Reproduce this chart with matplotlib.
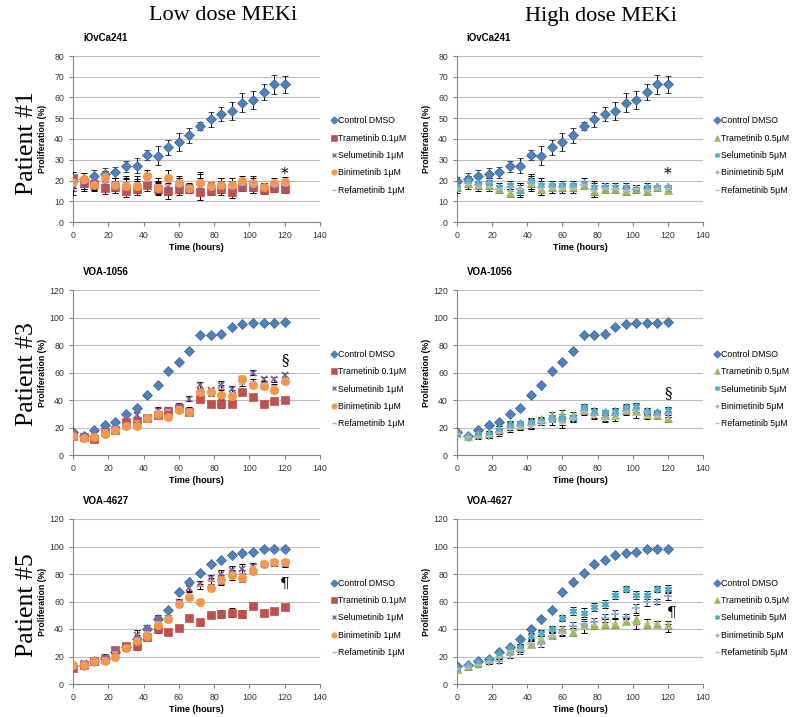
import matplotlib
matplotlib.use("Agg")
import matplotlib.pyplot as plt
from matplotlib.lines import Line2D

# time points (hours)
hours = [0, 6, 12, 18, 24, 30, 36, 42, 48, 54, 60, 66, 72, 78, 84, 90, 96, 102, 108, 114, 120]

# --- iOvCa241 (patient #1) ---
p1_ctrl = [19.6, 20.7, 22.4, 23.2, 23.9, 26.8, 27.2, 32.4, 32.0, 36.0, 38.5, 41.8, 46.3, 49.5, 52.0, 53.5, 57.5, 58.8, 62.7, 66.3, 66.3]
p1_ctrl_err = [2, 3, 2.5, 3, 2.5, 2.5, 3.5, 2.5, 4.5, 3.5, 4.5, 3.5, 2, 3.5, 3.5, 4.5, 4.5, 4.5, 4, 4.5, 4]
p1_low = {
    "Trametinib 0.1μM": [21, 19, 18.5, 16.5, 17, 15, 16, 18, 16, 15, 16, 16, 14.5, 15, 16, 14.5, 17, 17, 15.5, 16.5, 16],
    "Selumetinib 1μM": [16, 18, 19, 19, 18, 18, 17, 20, 17, 17, 17, 16.5, 17, 17, 17, 16, 17, 17, 17, 17, 17],
    "Binimetinib 1μM": [19.5, 20.5, 18, 21.5, 18, 17.5, 17.5, 22, 16.5, 21, 19, 16.5, 19, 17.5, 18, 18, 20, 19, 17, 19, 19.5],
    "Refametinib 1μM": [18, 19, 19, 19, 18, 19, 19, 20, 18, 18, 18, 17, 20, 17, 18, 17, 18, 18, 17, 18, 18],
}
p1_low_err = [3, 3, 3, 3, 3, 3, 3, 3, 3, 4, 3, 2, 4, 2, 3, 3, 2, 3, 2, 2, 2]
p1_high = {
    "Trametinib 0.5μM": [17, 19, 18, 18, 16, 14, 16, 19, 16, 17, 17, 17, 18, 15, 16, 16, 15, 16, 15, 17, 15.5],
    "Selumetinib 5μM": [17, 20, 19, 19, 17, 18, 15, 20, 18, 18, 18, 18, 19, 17, 17, 17, 17, 16, 17, 17, 17],
    "Binimetinib 5μM": [17, 19, 18, 19, 16, 17, 16, 19, 17, 17, 17, 17, 18, 16, 17, 16, 16, 16, 16, 17, 17],
    "Refametinib 5μM": [16, 18, 17, 17, 16, 15, 16, 18, 16, 16, 16, 16, 18, 15, 16, 16, 15, 16, 15, 16, 16],
}
p1_high_err = [2, 2, 2, 2, 2, 2, 3, 3, 3, 2, 2, 2, 2, 3, 2, 2, 2, 2, 2, 1, 1]

# --- VOA-1056 (patient #3) ---
p3_ctrl = [16.5, 14, 18, 22, 24, 30, 34.5, 44, 51, 61, 68, 76, 87.5, 87.5, 88, 93, 95, 96, 96, 96, 97]
p3_ctrl_err = [1, 1, 1, 1, 1, 1, 1.5, 1, 1, 1, 1, 1, 1, 1, 1, 1, 1, 1, 1, 1, 1]
p3_low = {
    "Trametinib 0.1μM": [14, 13, 12, 17, 18, 24, 25, 27, 29, 32, 34, 31, 41, 37, 37, 37, 46, 42, 37, 39, 40],
    "Selumetinib 1μM": [15, 14, 13, 17, 19, 22, 29, 27, 33, 33, 36, 41, 51, 47, 51, 48, 55, 60, 55, 55, 58],
    "Binimetinib 1μM": [14, 12.5, 13, 15, 18, 21, 21, 27, 30, 28, 33, 31, 46, 46, 44, 43, 55, 51, 50, 47, 54],
    "Refametinib 1μM": [15, 13, 13, 18, 19, 22, 25, 27, 32, 33, 35, 33, 45, 45, 48, 45, 52, 53, 52, 50, 55],
}
p3_low_err = [1.5, 1.5, 1.5, 1.5, 1.5, 2, 2, 2, 2, 2, 2, 2, 2, 2, 3, 2, 2, 2, 2, 2, 2]
p3_high = {
    "Trametinib 0.5μM": [16, 14, 15, 16, 19, 23, 22, 25, 26, 29, 30, 29, 33, 32, 29, 29, 33, 32, 30, 29, 27],
    "Selumetinib 5μM": [16, 14, 15, 15, 18, 22, 23, 24, 25, 27, 27, 27, 35, 32, 31, 32, 35, 36, 32, 31, 33],
    "Binimetinib 5μM": [15, 13, 14, 14, 17, 20, 21, 22, 24, 26, 25, 27, 32, 29, 27, 29, 32, 33, 31, 29, 30],
    "Refametinib 5μM": [15, 13, 13, 14, 16, 19, 20, 21, 24, 24, 23, 26, 31, 28, 26, 27, 31, 29, 28, 28, 26],
}
p3_high_err = [1.5, 1.5, 1.5, 1.5, 2, 2, 2, 2, 2, 2, 3, 2, 2, 2, 2, 2, 2, 2, 2, 2, 2]

# --- VOA-4627 (patient #5) ---
p5_ctrl = [13, 14, 17, 18, 23, 27, 33, 40, 47, 54, 67, 74, 81, 87, 90, 94, 95.5, 96, 98, 98, 98.5]
p5_ctrl_err = [1, 1, 1, 1, 1, 1, 1, 1, 1, 1, 1, 1, 1, 1, 1, 1, 1, 1, 1, 1, 1]
p5_low = {
    "Trametinib 0.1μM": [12, 14, 17, 18, 25, 28, 28, 34, 40, 38, 40.5, 48, 45, 50, 51, 52, 51, 57, 52, 53, 56],
    "Selumetinib 1μM": [13, 15, 17, 20, 24, 27, 36, 41, 47, 48, 60, 70, 73, 77, 80, 83, 84, 86, 87, 88, 87],
    "Binimetinib 1μM": [14, 14, 16.5, 17, 20, 26, 31, 35, 43, 47, 58, 63, 60, 70, 76, 79, 77, 82, 87, 89, 89],
    "Refametinib 1μM": [13, 15, 17, 19, 23, 27, 33, 38, 45, 47, 59, 65, 71, 75, 75, 80, 80, 85, 87, 88, 88],
}
p5_low_err = [1.5, 1.5, 1.5, 1.5, 2, 2, 3, 2, 3, 2, 2, 2, 2, 2, 3, 3, 3, 2, 2, 2, 2]
p5_high = {
    "Trametinib 0.5μM": [11, 13, 15, 18, 22, 25, 27, 29, 33, 36, 40, 38, 43, 43, 44, 44, 46, 47, 44, 44, 43],
    "Selumetinib 5μM": [12, 14, 16, 18, 21, 26, 27, 35, 37, 40, 48, 53, 52, 56, 58, 64.5, 69, 65, 65, 69, 69],
    "Binimetinib 5μM": [11, 13, 14, 16, 17, 21, 24, 29, 29, 35, 38, 42, 44, 45, 48, 51, 49, 55, 60, 60, 64],
    "Refametinib 5μM": [11, 12, 14, 16, 20, 24, 25, 30, 33, 35, 37, 39, 40, 43, 44, 44, 46, 43, 44, 44, 41],
}
p5_high_err = [1.5, 1.5, 1.5, 1.5, 2, 2, 2, 2, 2, 2, 2, 3, 3, 3, 3, 3, 2, 3, 3, 2, 3]

panel_titles = ["iOvCa241", "VOA-1056", "VOA-4627"]
row_labels = ["Patient #1", "Patient #3", "Patient #5"]
col_labels = ["Low dose MEKi", "High dose MEKi"]
marks = ["*", "§", "¶"]
mark_pos = [(120, 23, 120, 23), (120, 69, 120, 45), (120, 73, 122, 52)]

# marker style per series (Excel-like)
style_low = [("s", "#C0504D", 6), ("x", "#8064A2", 4.5), ("o", "#F79646", 6), ("_", "#E39B9B", 5)]
style_high = [("^", "#9BBB59", 6), ((6, 2, 0), "#4BACC6", 5.5), ("+", "#8EA9D8", 5.5), ("_", "#C4BD97", 5)]

sans = "Liberation Sans"
serif = "Liberation Serif"
W, H = 794, 717


def panel(ax, ctrl, ctrl_err, series, tx_err, styles, title, ymax, ystep, mark, mx, my):
    ax.errorbar(hours, ctrl, yerr=ctrl_err, fmt="D", color="#4F81BD", mec="#3A6496", mew=0.5,
                ms=5.3, ecolor="black", elinewidth=0.7, capsize=2, capthick=0.7, zorder=3)
    handles = [Line2D([], [], ls="none", marker="D", color="#4F81BD", ms=3.5, label="Control DMSO")]
    for (name, vals), (m, c, s) in zip(series.items(), styles):
        ax.errorbar(hours, vals, yerr=tx_err, fmt="none", ecolor="black", elinewidth=0.7,
                    capsize=2, capthick=0.7, zorder=3)
        lined = m in ("x", "+", "_") or isinstance(m, tuple)
        ax.plot(hours, vals, linestyle="none", marker=m, color=c, ms=s, mec=c,
                mew=1.2 if lined else 0.5, zorder=4)
        handles.append(Line2D([], [], ls="none", marker=m, color=c, ms=s * 0.65,
                              mew=1.0 if lined else 0.4, label=name))
    ax.set_xlim(0, 140)
    ax.set_ylim(0, ymax)
    ax.set_xticks(range(0, 141, 20))
    ax.set_yticks(range(0, ymax + 1, ystep))
    ax.grid(axis="y", color="#BFBFBF", lw=0.8)
    ax.set_axisbelow(True)
    for sp in ("top", "right"):
        ax.spines[sp].set_visible(False)
    for sp in ("left", "bottom"):
        ax.spines[sp].set_color("#868686")
        ax.spines[sp].set_linewidth(0.8)
    ax.tick_params(labelsize=6.3, colors="#868686", length=3, width=0.8, labelcolor="#333333")
    for lab in ax.get_xticklabels() + ax.get_yticklabels():
        lab.set_family(sans)
    ax.set_xlabel("Time (hours)", fontsize=6.5, fontweight="bold", family=sans, labelpad=2)
    ax.set_ylabel("Proliferation (%)", fontsize=6.3, fontweight="bold", family=sans)
    ax.yaxis.set_label_coords(-0.105, 0.5)
    ax.text(0.04, 1.08, title, transform=ax.transAxes, fontsize=7, fontweight="bold", family=sans,
            va="bottom")
    ax.text(mx, my, mark, fontsize=11, ha="center", va="center", family="DejaVu Serif")
    ax.legend(handles=handles, loc="center left", bbox_to_anchor=(1.03, 0.40), frameon=False,
              prop={"family": sans, "size": 6.3}, handlelength=0.6, handletextpad=0.2,
              labelspacing=0.95, borderaxespad=0)


fig = plt.figure(figsize=(7.94, 7.17), dpi=100)

lefts = [73, 457]
widths = [247, 246]
rows = [(56, 222), (290, 455), (519, 684)]
data = [
    (p1_ctrl, p1_ctrl_err, p1_low, p1_low_err, p1_high, p1_high_err, 80, 10),
    (p3_ctrl, p3_ctrl_err, p3_low, p3_low_err, p3_high, p3_high_err, 120, 20),
    (p5_ctrl, p5_ctrl_err, p5_low, p5_low_err, p5_high, p5_high_err, 120, 20),
]

for r, (top, bot) in enumerate(rows):
    ctrl, cerr, low, lerr, high, herr, ymax, ystep = data[r]
    for c in range(2):
        ax = fig.add_axes([lefts[c] / W, 1 - bot / H, widths[c] / W, (bot - top) / H])
        if c == 0:
            panel(ax, ctrl, cerr, low, lerr, style_low, panel_titles[r], ymax, ystep,
                  marks[r], mark_pos[r][0], mark_pos[r][1])
        else:
            panel(ax, ctrl, cerr, high, herr, style_high, panel_titles[r], ymax, ystep,
                  marks[r], mark_pos[r][2], mark_pos[r][3])

fig.text(223 / W, 1 - 16 / H, col_labels[0], ha="center", va="center", family=serif, fontsize=16)
fig.text(601 / W, 1 - 16 / H, col_labels[1], ha="center", va="center", family=serif, fontsize=16)
for lab, yc in zip(row_labels, [143, 374, 605]):
    fig.text(27 / W, 1 - yc / H, lab, ha="center", va="center", rotation=90, family=serif, fontsize=18.5)

fig.savefig("out.png", dpi=100)
